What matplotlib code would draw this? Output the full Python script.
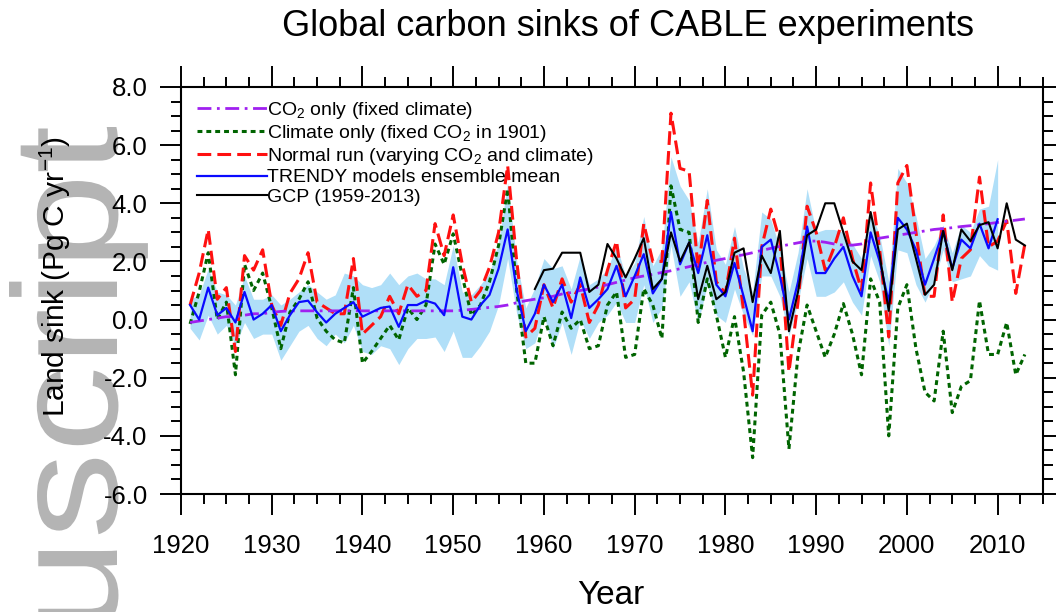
import matplotlib
matplotlib.use('Agg')
import matplotlib.pyplot as plt
from matplotlib.ticker import MultipleLocator, FormatStrFormatter
from matplotlib.textpath import TextPath
from matplotlib.patches import PathPatch
from matplotlib.font_manager import FontProperties
from matplotlib.transforms import Affine2D

plt.rcParams['font.family'] = ['Liberation Sans', 'DejaVu Sans']
plt.rcParams['mathtext.fontset'] = 'custom'
plt.rcParams['mathtext.rm'] = 'Liberation Sans'
plt.rcParams['mathtext.it'] = 'Liberation Sans:italic'
plt.rcParams['axes.unicode_minus'] = False

years = list(range(1921, 2014))
gcp_years = list(range(1959, 2014))
trendy_years = list(range(1921, 2011))

co2_only = [-0.1, -0.05, 0.0, 0.05, 0.1, 0.1, 0.15, 0.2, 0.2, 0.25,
            0.28, 0.3, 0.3, 0.3, 0.3, 0.3, 0.3, 0.3, 0.3, 0.3,
            0.3, 0.3, 0.3, 0.3, 0.3, 0.3, 0.3, 0.3, 0.3, 0.3,
            0.32, 0.35, 0.38, 0.42, 0.45, 0.5, 0.58, 0.65, 0.7, 0.75,
            0.8, 0.88, 0.93, 1.0, 1.05, 1.12, 1.2, 1.28, 1.36, 1.44,
            1.5, 1.56, 1.62, 1.68, 1.75, 1.82, 1.9, 1.97, 2.04, 2.1,
            2.17, 2.23, 2.3, 2.38, 2.45, 2.52, 2.58, 2.64, 2.7, 2.7,
            2.66, 2.6, 2.56, 2.56, 2.6, 2.7, 2.8, 2.85, 2.9, 2.95,
            3.0, 3.05, 3.1, 3.13, 3.16, 3.2, 3.23, 3.26, 3.3, 3.34,
            3.38, 3.42, 3.46]

climate_only = [-0.15, 0.95, 2.3, 0.0, 0.6, -1.9, 1.9, 1.0, 1.6, 0.4,
                -1.0, 0.25, 0.7, 1.3, 0.05, -0.4, -0.7, -0.8, 1.1, -1.5,
                -1.1, -0.65, -0.2, -0.7, 0.4, 0.0, 0.5, 2.6, 1.9, 2.95,
                1.5, 0.15, 0.5, 1.3, 2.55, 4.5, 1.0, -1.5, -1.5, 0.1,
                -0.9, 0.26, -0.3, 0.0, -1.0, -0.9, 0.5, 0.95, -1.3, -1.2,
                1.06, 0.5, -0.65, 4.6, 3.1, 3.0, -0.1, 1.4, 0.15, -1.3,
                0.1, -1.8, -4.75, 0.15, 0.6, -0.5, -4.45, -1.2, 0.5, -0.4,
                -1.3, -0.5, 0.55, -0.5, -1.9, 1.4, 0.6, -4.0, 0.4, 1.2,
                -1.0, -2.5, -2.8, -0.4, -3.2, -2.3, -2.1, 0.65, -1.2, -1.2,
                -0.1, -1.9, -1.2]

normal_run = [0.5, 1.6, 3.1, 0.7, 1.1, -1.1, 2.2, 1.7, 2.4, 0.5,
              -0.2, 0.9, 1.4, 2.3, 0.6, 0.4, 0.2, 0.2, 2.1, -0.5,
              -0.2, 0.1, 0.8, 0.2, 1.2, 0.8, 1.0, 3.3, 2.2, 3.6,
              1.9, 0.6, 1.0, 1.8, 3.0, 5.3, 2.0, -0.6, -0.3, 1.2,
              0.4, 1.4, 0.6, 1.2, -0.1, 0.5, 1.7, 2.7, 0.4, 0.7,
              3.3, 2.0, 2.0, 7.1, 5.2, 5.1, 1.7, 4.1, 1.3, 0.9,
              2.8, 0.3, -2.6, 2.5, 3.8, 2.7, -1.8, 0.6, 3.9, 3.0,
              1.7, 2.5, 3.5, 2.1, 1.0, 4.7, 2.4, -0.6, 4.7, 5.3,
              3.0, 0.8, 0.8, 3.6, 0.6, 2.1, 2.4, 4.9, 2.5, 2.7,
              3.4, 0.9, 2.6]

trendy_mean = [0.5, 0.0, 1.1, 0.15, 0.4, -0.1, 0.95, 0.0, 0.2, 0.5,
               -0.4, 0.15, 0.6, 0.65, 0.25, -0.1, 0.2, 0.4, 0.6, 0.1,
               0.25, 0.4, 0.45, -0.25, 0.5, 0.5, 0.65, 0.55, 0.15, 1.8,
               0.1, 0.0, 0.5, 0.85, 1.75, 3.1, 1.0, -0.4, 0.2, 1.2,
               0.6, 1.2, 0.05, 1.45, 0.4, 0.7, 1.05, 1.85, 0.8, 1.5,
               2.25, 0.9, 1.4, 3.7, 1.9, 2.65, 1.6, 2.9, 1.2, 0.8,
               1.95, 0.8, -0.4, 2.5, 2.75, 1.5, 0.0, 1.3, 3.2, 1.6,
               1.6, 2.1, 2.5, 1.5, 0.8, 3.0, 2.0, 0.6, 3.5, 3.1,
               2.4, 1.2, 2.1, 3.05, 1.75, 2.75, 2.45, 3.3, 2.45, 3.45]

trendy_low = [-0.3, -0.7, 0.15, -0.5, -0.2, -0.9, -0.1, -0.65, -0.5, -0.5,
              -1.4, -0.9, -0.4, -0.2, -0.65, -0.9, -0.5, -0.8, -0.2, -1.1,
              -1.2, -0.9, -1.0, -1.55, -1.0, -0.65, -0.65, -0.6, -1.1, -0.4,
              -1.3, -1.3, -0.9, -0.4, 0.5, 2.1, 0.2, -1.0, -0.8, 0.15,
              -1.0, -0.1, -1.2, 0.0, -0.65, -0.1, 0.15, 0.6, -0.1, -0.1,
              1.2, -0.1, 0.4, 2.55, 0.8, 1.3, -0.1, 1.2, 0.15, -0.1,
              1.05, 0.15, -0.55, 1.5, 1.5, 0.8, -0.55, 0.6, 2.1, 0.8,
              0.8, 0.95, 1.3, 0.6, 0.15, 2.2, 1.3, -0.9, 2.4, 2.3,
              1.2, 0.6, 1.3, 2.4, 1.3, 1.4, 1.5, 2.2, 1.85, 1.7]

trendy_high = [0.7, 0.85, 1.75, 0.95, 0.85, 0.5, 1.5, 0.7, 0.7, 0.85,
               0.5, 0.7, 0.95, 1.2, 0.95, 0.7, 0.85, 1.6, 1.5, 1.2,
               1.1, 1.2, 1.6, 1.2, 1.5, 1.6, 1.4, 1.4, 1.2, 2.55,
               0.95, 0.85, 1.2, 1.6, 2.65, 4.7, 2.0, 0.4, 1.1, 2.1,
               1.75, 1.85, 1.05, 2.2, 1.2, 1.4, 1.75, 2.55, 1.5, 1.95,
               3.55, 1.85, 2.45, 5.6, 4.6, 4.1, 2.65, 4.5, 2.4, 1.9,
               3.2, 1.75, 0.95, 3.7, 3.45, 2.45, 0.95, 2.3, 4.5, 3.0,
               3.1, 3.1, 3.0, 2.6, 2.1, 3.7, 2.9, 1.3, 5.2, 4.7,
               3.55, 2.1, 2.55, 3.25, 2.3, 3.25, 3.0, 3.8, 3.9, 5.5]

gcp = [1.05, 1.7, 1.75, 2.3, 2.3, 2.3, 0.95, 1.2, 2.6, 2.1,
       1.45, 2.1, 2.8, 1.05, 1.4, 3.0, 2.0, 2.65, 0.7, 1.85,
       0.7, 0.95, 2.3, 2.45, 0.6, 2.2, 1.6, 3.05, -0.4, 0.95,
       2.9, 3.1, 4.0, 4.0, 3.0, 2.0, 1.7, 3.7, 2.2, 0.3,
       3.1, 3.3, 2.1, 0.85, 1.2, 3.05, 1.7, 3.1, 2.7, 3.25,
       3.35, 2.45, 4.0, 2.75, 2.55]

labels = ['CO$_2$ only (fixed climate)',
          'Climate only (fixed CO$_2$ in 1901)',
          'Normal run (varying CO$_2$ and climate)',
          'TRENDY models ensemble mean',
          'GCP (1959-2013)']

W, H = 1056, 612
fig = plt.figure(figsize=(W / 100, H / 100), dpi=100)

# faint "Manuscript" watermark (stretched along its length), mostly off the page
wm = TextPath((0, 0), 'Manuscript', size=1, prop=FontProperties(family='Liberation Sans'))
along, across = 173, 149
end = wm.get_extents().x1
wm_tr = Affine2D().scale(along, across).rotate_deg(90).translate(117, (H - 127) - end * along)
fig.add_artist(PathPatch(wm, transform=wm_tr, facecolor='#b4b4b4', edgecolor='none', zorder=-1))

ax = fig.add_axes([181 / W, 1 - 494 / H, 862 / W, 407 / H])

ax.fill_between(trendy_years, trendy_low, trendy_high, color='#b0dff8', linewidth=0, zorder=1)
l_green, = ax.plot(years, climate_only, color='#006400', lw=2.2, dashes=(1.6, 1.3), zorder=2)
l_red, = ax.plot(years, normal_run, color='#ff1010', lw=2.2, dashes=(4.5, 2), zorder=3)
l_purple, = ax.plot(years, co2_only, color='#a020f0', lw=2, dashes=(5, 2, 1, 2), zorder=4)
l_blue, = ax.plot(trendy_years, trendy_mean, color='#0a0aff', lw=1.6, zorder=5)
l_black, = ax.plot(gcp_years, gcp, color='black', lw=1.5, zorder=6)

ax.set_xlim(1920, 2015)
ax.set_ylim(-6, 8)
ax.xaxis.set_major_locator(MultipleLocator(10))
ax.xaxis.set_minor_locator(MultipleLocator(2.5))
ax.yaxis.set_major_locator(MultipleLocator(2))
ax.yaxis.set_minor_locator(MultipleLocator(0.5))
ax.yaxis.set_major_formatter(FormatStrFormatter('%.1f'))
ax.tick_params(which='both', direction='out', top=True, right=True, width=1.4, labelsize=18.5)
ax.tick_params(which='major', length=15)
ax.tick_params(which='minor', length=7)
ax.tick_params(axis='x', pad=14)
ax.tick_params(axis='y', pad=9)
for s in ax.spines.values():
    s.set_linewidth(1.5)

ax.set_ylabel('Land sink (Pg C yr$^{-1}$)', fontsize=21.5)
ax.yaxis.set_label_coords(-0.125, 0.535)

ax.legend([l_purple, l_green, l_red, l_blue, l_black], labels, loc='upper left',
          bbox_to_anchor=(0.018, 0.968), frameon=False, fontsize=14,
          handlelength=3.6, handletextpad=0.05, labelspacing=0.1,
          borderpad=0, borderaxespad=0)

fig.text(628 / W, 1 - 27 / H, 'Global carbon sinks of CABLE experiments',
         ha='center', va='center', fontsize=26)
fig.text(611 / W, 1 - 595 / H, 'Year', ha='center', va='center', fontsize=24)

fig.savefig('out.png', dpi=100)
